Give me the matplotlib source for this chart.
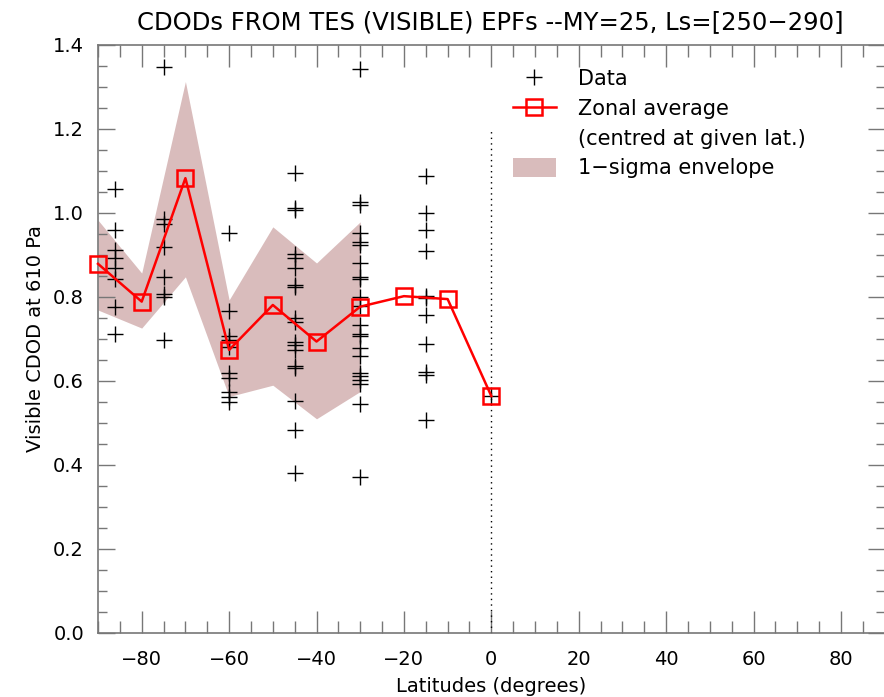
import matplotlib
matplotlib.use("Agg")
import matplotlib.pyplot as plt
from matplotlib.lines import Line2D
from matplotlib.patches import Patch
from matplotlib.legend_handler import HandlerLine2D
from matplotlib.ticker import MultipleLocator, FixedLocator, FormatStrFormatter

plt.rcParams['font.family'] = ['DejaVu Sans']

# Individual CDOD retrievals, grouped by latitude
data_lat = [-86.2] * 8 + [-75.0] * 8 + [-60.0] * 10 + [-45.0] * 18 + [-30.0] * 22 + [-15.0] * 11 + [0.0]
data_cdod = [
    1.057, 0.960, 0.913, 0.892, 0.868, 0.842, 0.777, 0.712,
    1.347, 0.985, 0.975, 0.920, 0.848, 0.807, 0.799, 0.698,
    0.952, 0.767, 0.706, 0.698, 0.682, 0.618, 0.606, 0.575, 0.563, 0.551,
    1.095, 1.011, 1.007, 0.902, 0.894, 0.868, 0.829, 0.825, 0.749, 0.741,
    0.694, 0.686, 0.674, 0.636, 0.630, 0.553, 0.483, 0.380,
    1.344, 1.027, 1.019, 0.952, 0.932, 0.924, 0.882, 0.848, 0.842, 0.801,
    0.779, 0.733, 0.712, 0.707, 0.679, 0.660, 0.618, 0.612, 0.602, 0.594,
    0.545, 0.371,
    1.088, 0.999, 0.960, 0.910, 0.802, 0.797, 0.757, 0.688, 0.622, 0.614, 0.507,
    0.565,
]

# Zonal average, centred at each latitude
zonal_lat = [-90, -80, -70, -60, -50, -40, -30, -20, -10, 0]
zonal_avg = [0.879, 0.789, 1.083, 0.674, 0.781, 0.694, 0.777, 0.802, 0.795, 0.564]

# 1-sigma envelope (only where enough points)
env_lat = [-90, -80, -70, -60, -50, -40, -30]
env_low = [0.769, 0.726, 0.848, 0.563, 0.590, 0.510, 0.575]
env_high = [0.983, 0.857, 1.313, 0.793, 0.967, 0.881, 0.979]

x_ticks = [-80, -60, -40, -20, 0, 20, 40, 60, 80]
y_ticks = [0.0, 0.2, 0.4, 0.6, 0.8, 1.0, 1.2, 1.4]

title = "CDODs FROM TES (VISIBLE) EPFs --MY=25, Ls=[250\u2212290]"

W, H = 884, 697
fig = plt.figure(figsize=(W / 100, H / 100), dpi=100)
ax = fig.add_axes([98 / W, 1 - 633 / H, (884.7 - 98) / W, (633 - 45) / H])

env_color = '#d9bcbc'
ax.fill_between(env_lat, env_low, env_high, color=env_color, lw=0, zorder=1)
ax.plot(data_lat, data_cdod, ls='none', marker='+', color='black',
        ms=11, mew=1.0, zorder=3)
ax.plot(zonal_lat, zonal_avg, color='red', lw=1.8, marker='s', ms=11,
        mfc='none', mec='red', mew=1.8, zorder=4, clip_on=False)
ax.vlines(0, 0, 1.2, colors='black', linestyles=(0, (1, 3)), lw=1.0, zorder=2)

ax.set_xlim(-90, 90)
ax.set_ylim(0, 1.4)
ax.xaxis.set_major_locator(FixedLocator(x_ticks))
ax.xaxis.set_minor_locator(MultipleLocator(5))
ax.yaxis.set_major_locator(FixedLocator(y_ticks))
ax.yaxis.set_minor_locator(MultipleLocator(0.05))
ax.yaxis.set_major_formatter(FormatStrFormatter('%.1f'))

axis_grey = '#777777'
for s in ax.spines.values():
    s.set_color(axis_grey)
    s.set_linewidth(1.2)
ax.tick_params(axis='x', which='major', direction='in', length=15.5, width=1.0,
               color=axis_grey, top=True, labelsize=14, pad=12)
ax.tick_params(axis='x', which='minor', direction='in', length=8.4, width=1.0,
               color=axis_grey, top=True)
ax.tick_params(axis='y', which='major', direction='in', length=12, width=1.0,
               color=axis_grey, right=True, labelsize=14, pad=10)
ax.tick_params(axis='y', which='minor', direction='in', length=6.5, width=1.0,
               color=axis_grey, right=True)

ax.set_xlabel('Latitudes (degrees)', fontsize=14, labelpad=6)
ax.set_ylabel('Visible CDOD at 610 Pa', fontsize=14, labelpad=6)
fig.text(490 / W, 1 - 22 / H, title, ha='center', va='center', fontsize=17.5)

h_data = Line2D([], [], ls='none', marker='+', color='black', ms=11, mew=1.0)
h_zonal = Line2D([], [], color='red', lw=1.8, marker='s', ms=11,
                 mfc='none', mec='red', mew=1.8)
h_blank = Line2D([], [], ls='none', marker=None)
h_env = Patch(facecolor=env_color, edgecolor='none')
leg = ax.legend([h_data, h_zonal, h_blank, h_env],
                ['Data', 'Zonal average', '(centred at given lat.)', '1\u2212sigma envelope'],
                loc='upper left', bbox_to_anchor=(513 / W, 1 - 69 / H),
                bbox_transform=fig.transFigure, frameon=False, fontsize=15,
                handlelength=2.05, handletextpad=1.05, handleheight=1.0,
                labelspacing=0.44, borderpad=0, borderaxespad=0,
                handler_map={h_data: HandlerLine2D(numpoints=1)})

fig.savefig('out.png', dpi=100)
